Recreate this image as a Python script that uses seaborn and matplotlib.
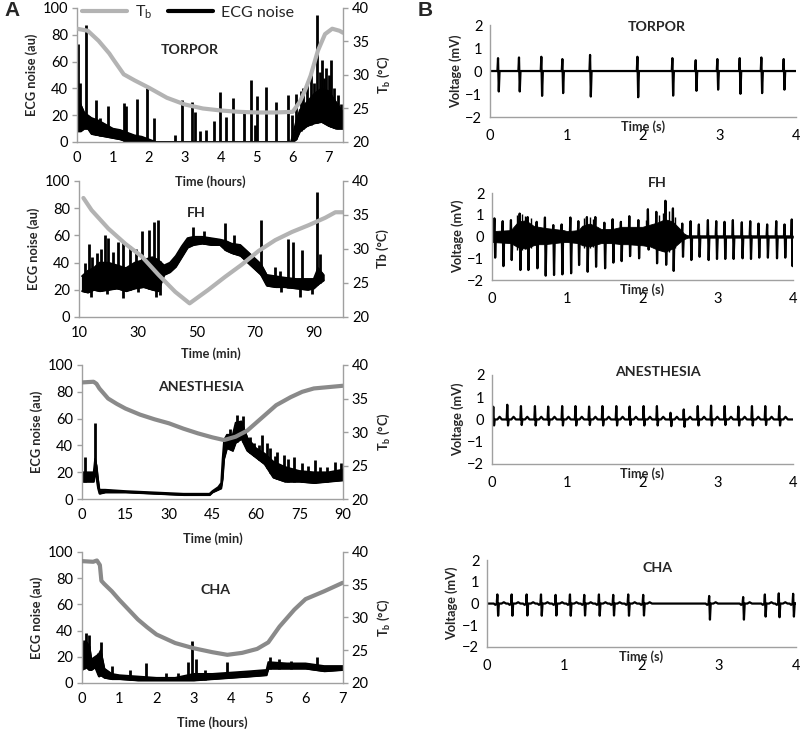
import numpy as np
import matplotlib
matplotlib.use("Agg")
import matplotlib.pyplot as plt
import seaborn as sns
from matplotlib.lines import Line2D

sns.set_theme(style="white")
plt.rcParams['font.family'] = ['Lato', 'DejaVu Sans']
plt.rcParams['mathtext.default'] = 'regular'

# ---------------- Panel A data ----------------
# TORPOR (hours)
torpor_tb_t = [0, 0.3, 0.6, 0.9, 1.0, 1.3, 1.6, 2.0, 2.5, 3.0, 3.5, 4.0, 4.5, 5.0, 5.5, 6.0, 6.2, 6.35, 6.5, 6.7, 6.9, 7.1, 7.3, 7.4]
torpor_tb = [36.9, 36.6, 35.1, 33.2, 32.4, 30.1, 29.2, 28.1, 26.6, 25.6, 25.0, 24.7, 24.5, 24.4, 24.4, 24.5, 26.0, 27.8, 29.9, 33.6, 36.1, 36.9, 36.6, 36.3]
torpor_n_t = [0, 0.1, 0.2, 0.3, 0.4, 0.6, 0.8, 1.0, 1.2, 1.4, 1.6, 1.8, 2.0, 2.2, 5.95, 6.0, 6.1, 6.2, 6.4, 6.6, 6.8, 7.0, 7.2, 7.4]
torpor_n_lo = [8, 8, 10, 10, 6, 5, 4, 3, 2, 0, 0, 0, 0, 0, 0, 0, 2, 8, 12, 14, 15, 12, 10, 10]
torpor_n_hi = [36, 28, 22, 20, 18, 16, 13, 10, 9, 7, 5, 4, 2, 0, 0, 5, 16, 24, 30, 36, 40, 38, 30, 22]
torpor_sp_t = [0.03, 0.08, 0.26, 0.54, 0.65, 0.85, 1.31, 1.37, 1.67, 1.94, 2.15, 2.73, 2.93, 3.19, 3.27, 3.43, 3.6, 3.82, 3.98, 4.15, 4.35, 4.65, 4.84, 4.95, 5.02, 5.27, 5.53, 5.87, 5.99, 6.1, 6.22,
               6.3, 6.4, 6.5, 6.58, 6.67, 6.75, 6.82, 6.88, 6.92, 7.0, 7.06, 7.15, 7.25, 7.35]
torpor_sp_h = [73, 44, 87, 31, 18, 27, 29, 27, 32, 40, 18, 5, 31, 30, 22, 8, 9, 16, 37, 19, 33, 24, 46, 13, 34, 41, 30, 35, 20, 36, 38,
               40, 45, 50, 44, 95, 52, 61, 48, 55, 50, 61, 40, 35, 28]

# FH (min)
fh_tb_t = [11.5, 14.3, 20, 25.7, 31.4, 37.1, 42.8, 47.7, 54.1, 59.8, 65.5, 71.2, 76.9, 82.6, 88.3, 94.0, 97.4, 100]
fh_tb = [37.5, 35.7, 33.0, 30.8, 28.9, 26.2, 23.7, 22.0, 24.0, 25.9, 27.7, 29.7, 31.3, 32.5, 33.5, 34.6, 35.4, 35.4]
fh_n_t = [11, 13, 15, 17, 20, 23, 26, 29, 32, 35, 37, 39, 41, 43, 45, 47, 49, 52, 55, 58, 60, 62, 65, 68, 70, 72, 74, 77, 80, 84, 88, 90, 91.5, 93.4]
fh_n_lo = [19, 18, 20, 19, 20, 21, 19, 21, 22, 20, 19, 31, 33, 37, 44, 51, 53, 54, 53, 53, 49, 47, 45, 39, 35, 31, 23, 22, 22, 21, 20, 21, 24, 27]
fh_n_hi = [30, 34, 36, 40, 40, 38, 36, 40, 42, 44, 42, 38, 40, 45, 52, 58, 59, 59, 58, 57, 56, 54, 53, 47, 43, 39, 31, 30, 29, 28, 28, 28, 36, 31]
fh_sp_t = [12.2, 13.4, 14.6, 16, 17.5, 18.9, 20, 21.5, 23.4, 25.1, 27.4, 29.5, 31.4, 33.7, 35.4, 36.8, 49, 52.5, 59.8, 63, 72.1, 76.9, 78.5, 81.4, 83.1, 86, 91.1, 92.3]
fh_sp_h = [40, 54, 44, 47, 50, 60, 58, 48, 55, 55, 52, 50, 63, 64, 70, 71, 66, 63, 69, 60, 71, 37, 34, 57, 55, 49, 92, 46]
fh_dp_t = [14.0, 19.5, 25.1, 30.0, 36.2, 37.5, 79.0, 85.2, 89.5]
fh_dp_v = [15, 17, 14, 18, 15, 16, 18, 15, 17]

# ANESTHESIA (min)
anes_tb_t = [0, 4, 5, 6, 9, 12, 15, 20, 25, 30, 35, 40, 45, 49, 53, 57, 62, 67, 72, 76, 80, 85, 90]
anes_tb = [37.4, 37.5, 37.2, 36.5, 35.0, 34.2, 33.5, 32.6, 31.9, 31.3, 30.5, 29.8, 29.2, 28.8, 29.3, 30.2, 32.1, 34.0, 35.2, 36.0, 36.5, 36.7, 36.9]
anes_n_t = [0, 4, 4.5, 5, 5.5, 6, 8, 15, 25, 35, 44, 45, 47, 48, 48.5, 49, 50, 52, 53, 55, 57, 60, 63, 66, 70, 75, 80, 85, 90]
anes_n_lo = [13, 13, 20, 15, 8, 4, 5, 5, 4, 3, 3, 5, 7, 8, 15, 30, 38, 36, 42, 45, 36, 31, 26, 16, 13, 13, 12, 13, 14]
anes_n_hi = [20, 20, 30, 25, 15, 7, 7, 6, 5, 4, 4, 6, 9, 12, 30, 44, 48, 48, 57, 58, 46, 38, 34, 28, 24, 21, 20, 20, 22]
anes_sp_t = [1.1, 4.5, 51, 53.5, 55.5, 58, 59.5, 61, 62, 63.8, 65, 66.5, 67.4, 69.6, 71, 73, 75.9, 78, 80.4, 82, 84.5, 87.2, 89.5]
anes_sp_h = [31, 57, 52, 63, 62, 46, 42, 40, 48, 42, 38, 32, 35, 33, 30, 31, 27, 25, 29, 24, 24, 28, 27]

# CHA (hours)
cha_tb_t = [0, 0.3, 0.4, 0.48, 0.52, 0.6, 0.8, 1.0, 1.25, 1.5, 1.75, 2.0, 2.5, 3.0, 3.5, 3.9, 4.3, 4.7, 5.0, 5.3, 5.7, 6.0, 6.5, 7.0]
cha_tb = [38.6, 38.5, 38.7, 38.0, 35.6, 35.1, 34.0, 32.7, 31.2, 29.7, 28.5, 27.4, 26.1, 25.3, 24.7, 24.3, 24.6, 25.2, 26.2, 28.6, 31.2, 32.8, 34.0, 35.3]
cha_n_t = [0, 0.1, 0.2, 0.25, 0.35, 0.45, 0.5, 0.55, 0.6, 0.8, 1.0, 1.5, 2.0, 2.5, 3.0, 3.5, 4.0, 4.5, 4.95, 5.0, 5.5, 6.0, 6.5, 7.0]
cha_n_lo = [10, 12, 10, 10, 12, 5, 6, 5, 4, 3, 3, 2, 2, 2, 2, 3, 4, 5, 6, 11, 11, 11, 9, 10]
cha_n_hi = [28, 32, 28, 18, 20, 22, 25, 18, 11, 7, 6, 5, 4, 4, 7, 7, 8, 9, 10, 16, 15, 15, 13, 13]
cha_sp_t = [0.05, 0.1, 0.2, 0.42, 0.52, 0.8, 1.3, 1.72, 2.25, 2.57, 2.85, 2.95, 3.05, 3.3, 3.9, 5.05, 5.3, 5.6, 6.3]
cha_sp_h = [33, 38, 37, 23, 31, 13, 10, 15, 8, 8, 16, 32, 18, 10, 16, 20, 18, 17, 20]

# ---------------- Panel B data ----------------
torpor_b_beats = [0.109, 0.383, 0.675, 0.950, 1.312, 1.931, 2.388, 2.693, 2.976, 3.268, 3.551, 3.843]
torpor_b_r = [0.56, 0.59, 0.62, 0.52, 0.70, 0.62, 0.56, 0.47, 0.52, 0.56, 0.59, 0.52]
torpor_b_s = [-0.89, -0.89, -1.08, -0.96, -1.11, -1.14, -1.07, -0.86, -0.81, -0.99, -0.96, -0.81]

fh_b_beats = [0.036, 0.146, 0.256, 0.372, 0.478, 0.598, 0.708, 0.819, 0.930, 1.046, 1.152, 1.266,
              1.378, 1.498, 1.608, 1.718, 1.830, 1.950, 2.077, 2.189, 2.310, 2.410, 2.534, 2.645,
              2.755, 2.875, 2.986, 3.096, 3.207, 3.326, 3.438, 3.548, 3.663, 3.784, 3.894, 3.990]
fh_b_r = [0.84, 0.71, 0.76, 1.06, 0.90, 0.68, 0.88, 0.53, 0.56, 0.88, 0.71, 0.90,
          0.90, 0.64, 0.80, 0.68, 0.94, 0.76, 1.26, 1.14, 1.65, 1.30, 0.60, 0.71,
          0.56, 0.76, 0.71, 0.68, 0.76, 0.66, 0.71, 0.60, 0.56, 0.71, 0.56, 0.79]
fh_b_s = [-0.97, -1.36, -1.08, -1.54, -1.54, -1.46, -1.80, -1.77, -1.74, -1.69, -1.31, -1.62,
          -1.39, -1.46, -1.20, -1.13, -0.90, -1.00, -0.60, -1.23, -1.30, -1.58, -0.93, -1.08,
          -0.93, -1.08, -1.03, -1.03, -1.03, -1.00, -1.03, -0.97, -0.97, -1.00, -0.97, -1.36]
fh_b_env_t = [0, 0.25, 0.3, 0.35, 0.45, 0.55, 0.62, 0.7, 0.95, 1.0, 1.15, 1.2, 1.3, 1.4, 1.45, 1.6, 1.72, 1.8, 2.0, 2.1, 2.2, 2.3, 2.4, 2.5, 2.55, 2.6, 4.0]
fh_b_env_up = [0.25, 0.3, 0.5, 0.7, 0.75, 0.5, 0.45, 0.4, 0.3, 0.25, 0.3, 0.5, 0.6, 0.45, 0.35, 0.35, 0.45, 0.45, 0.45, 0.55, 0.65, 0.8, 0.7, 0.35, 0.15, 0.05, 0.05]
fh_b_env_dn = [0.25, 0.3, 0.4, 0.5, 0.55, 0.4, 0.35, 0.35, 0.25, 0.25, 0.3, 0.4, 0.45, 0.35, 0.3, 0.3, 0.35, 0.35, 0.4, 0.45, 0.6, 0.7, 0.55, 0.25, 0.12, 0.05, 0.05]
fh_b_hair_t = [0.33, 0.40, 0.44, 0.52, 1.22, 1.30, 1.34, 2.05, 2.22, 2.27, 2.36, 2.44]
fh_b_hair_v = [1.0, 1.05, 0.95, 0.85, 0.85, 0.9, 0.8, 0.75, 1.0, 1.1, 1.2, 0.9]

anes_b_beats = [0.021, 0.207, 0.389, 0.575, 0.751, 0.937, 1.114, 1.295, 1.472, 1.657, 1.834, 2.020,
                2.197, 2.378, 2.554, 2.740, 2.917, 3.098, 3.280, 3.461, 3.638, 3.824]
anes_b_r = [0.57, 0.66, 0.60, 0.60, 0.58, 0.60, 0.60, 0.58, 0.60, 0.60, 0.58, 0.60,
            0.60, 0.30, 0.45, 0.60, 0.62, 0.60, 0.58, 0.60, 0.60, 0.60]
anes_b_s = [-0.27, -0.27, -0.25, -0.27, -0.25, -0.27, -0.27, -0.25, -0.27, -0.27, -0.25, -0.27,
            -0.27, -0.30, -0.33, -0.27, -0.27, -0.25, -0.27, -0.27, -0.25, -0.27]
anes_b_twave = 0.12

cha_b_beats = [0.138, 0.323, 0.517, 0.703, 0.892, 1.078, 1.263, 1.453, 1.638, 1.832, 2.026, 2.880, 3.320, 3.601, 3.781, 3.967]
cha_b_r = [0.42, 0.42, 0.42, 0.42, 0.40, 0.42, 0.40, 0.42, 0.40, 0.42, 0.40, 0.35, 0.30, 0.42, 0.47, 0.45]
cha_b_s = [-0.56, -0.56, -0.55, -0.56, -0.55, -0.56, -0.55, -0.56, -0.55, -0.56, -0.55, -0.74, -0.74, -0.60, -0.63, -0.60]
cha_b_twave = 0.06

# ---------------- styling ----------------
AXC = '#a0a0a0'
TB_LIGHT = '#b3b3b3'
TB_DARK = '#8a8a8a'
TICK_FS = 10.5
LAB_FS = 9.2
TIT_FS = 10.2

fig = plt.figure(figsize=(8, 7.3), dpi=100)


def style_spines(ax, left=True, right=False, bottom=True):
    for name, vis in [('left', left), ('right', right), ('bottom', bottom), ('top', False)]:
        ax.spines[name].set_visible(vis)
        ax.spines[name].set_color(AXC)
        ax.spines[name].set_linewidth(1.0)
    ax.tick_params(axis='both', which='both', direction='out', length=3.5, width=1.0,
                   color=AXC, labelsize=TICK_FS, pad=3, labelcolor='black')
    ax.grid(False)


def panel_a(rect, xlim, xticks, xticklabels, tb_t, tb, tb_color, n_t, lo, hi, sp_t, sp_h,
            title, title_xy, xlabel, xlabel_y, tb_label, dp=None):
    ax = fig.add_axes(rect)
    ax.set_facecolor('none')
    ax.fill_between(n_t, lo, hi, color='black', linewidth=0.8, edgecolor='black')
    sns.lineplot(x=n_t, y=lo, color='black', lw=1.2, ax=ax, sort=False, estimator=None)
    sns.lineplot(x=n_t, y=hi, color='black', lw=1.2, ax=ax, sort=False, estimator=None)
    base = np.interp(sp_t, n_t, lo)
    ax.vlines(sp_t, base, sp_h, color='black', lw=2.0)
    if dp is not None:
        top = np.interp(dp[0], n_t, hi)
        ax.vlines(dp[0], dp[1], top, color='black', lw=2.0)
    ax.set_xlim(*xlim)
    ax.set_ylim(0, 100)
    ax.set_yticks([0, 20, 40, 60, 80, 100])
    ax.set_xticks(xticks)
    ax.set_xticklabels(xticklabels)
    style_spines(ax, left=True, right=False, bottom=True)
    ax.set_xlabel(xlabel, fontsize=LAB_FS, fontweight='bold')
    ax.xaxis.set_label_coords(0.5, xlabel_y)
    ax.set_ylabel('ECG noise (au)', fontsize=LAB_FS, fontweight='bold')
    ax.yaxis.set_label_coords(-0.148, 0.5)
    ax.text(title_xy[0], title_xy[1], title, transform=ax.transAxes, ha='center', va='center',
            fontsize=TIT_FS, fontweight='bold')
    ax2 = ax.twinx()
    sns.lineplot(x=tb_t, y=tb, color=tb_color, lw=3.0, ax=ax2, sort=False, estimator=None)
    ax2.set_ylim(20, 40)
    ax2.set_yticks([20, 25, 30, 35, 40])
    style_spines(ax2, left=False, right=True, bottom=False)
    ax2.set_ylabel(tb_label, fontsize=LAB_FS, fontweight='bold')
    ax2.yaxis.set_label_coords(1.125, 0.5)
    ax2.set_xlim(*xlim)
    return ax


def ecg_trace(beats, r, s, twave=0.0, pre=0.0):
    tt = [0.0]
    vv = [0.0]
    for tb, rv, sv in zip(beats, r, s):
        if pre:
            tt += [tb - 0.05, tb - 0.03]
            vv += [0.0, -pre]
        tt += [tb - 0.012, tb - 0.004, tb + 0.006, tb + 0.016]
        vv += [0.0, rv, sv, 0.0]
        if twave:
            tt += [tb + 0.05, tb + 0.08, tb + 0.11]
            vv += [0.0, twave, 0.0]
    tt.append(4.0)
    vv.append(0.0)
    return tt, vv


def panel_b(rect, beats, r, s, title, title_xy, twave=0.0, pre=0.0, env=None, hair=None):
    ax = fig.add_axes(rect)
    ax.set_facecolor('none')
    if env is not None:
        et, eu, ed = env
        ax.fill_between(et, [-d for d in ed], eu, color='black', linewidth=0.6, edgecolor='black')
    if hair is not None:
        ax.vlines(hair[0], [-0.6 * h for h in hair[1]], hair[1], color='black', lw=1.0)
    tt, vv = ecg_trace(beats, r, s, twave, pre)
    sns.lineplot(x=tt, y=vv, color='black', lw=1.6, ax=ax, sort=False, estimator=None)
    ax.set_xlim(0, 4)
    ax.set_ylim(-2, 2)
    ax.set_xticks([0, 1, 2, 3, 4])
    ax.set_yticks([-2, -1, 0, 1, 2])
    style_spines(ax, left=True, right=False, bottom=True)
    ax.tick_params(axis='x', pad=5)
    ax.tick_params(axis='y', pad=2)
    ax.set_xlabel('Time (s)', fontsize=LAB_FS, fontweight='bold')
    ax.xaxis.set_label_coords(0.5, -0.035)
    ax.set_ylabel('Voltage (mV)', fontsize=LAB_FS, fontweight='bold')
    ax.yaxis.set_label_coords(-0.092, 0.5)
    ax.text(title_xy[0], title_xy[1], title, transform=ax.transAxes, ha='center', va='center',
            fontsize=TIT_FS, fontweight='bold')
    return ax


TB_MATH = 'T$_{b}$ (°C)'

panel_a([0.09625, 0.8055, 0.3325, 0.1836], (0, 7.4), list(range(8)), [str(i) for i in range(8)],
        torpor_tb_t, torpor_tb, TB_LIGHT, torpor_n_t, torpor_n_lo, torpor_n_hi, torpor_sp_t, torpor_sp_h,
        'TORPOR', (0.425, 0.687), 'Time (hours)', -0.245, TB_MATH)

panel_a([0.09875, 0.5658, 0.33, 0.1863], (10, 100), list(range(10, 100, 10)),
        ['10', '', '30', '', '50', '', '70', '', '90'],
        fh_tb_t, fh_tb, TB_LIGHT, fh_n_t, fh_n_lo, fh_n_hi, fh_sp_t, fh_sp_h,
        'FH', (0.443, 0.765), 'Time (min)', -0.225, 'Tb (°C)', dp=(fh_dp_t, fh_dp_v))

panel_a([0.1025, 0.3164, 0.326, 0.1836], (0, 90), list(range(0, 91, 15)), [str(i) for i in range(0, 91, 15)],
        anes_tb_t, anes_tb, TB_DARK, anes_n_t, anes_n_lo, anes_n_hi, anes_sp_t, anes_sp_h,
        'ANESTHESIA', (0.456, 0.836), 'Time (min)', -0.25, TB_MATH)

panel_a([0.1025, 0.0644, 0.326, 0.1795], (0, 7), list(range(8)), [str(i) for i in range(8)],
        cha_tb_t, cha_tb, TB_DARK, cha_n_t, cha_n_lo, cha_n_hi, cha_sp_t, cha_sp_h,
        'CHA', (0.51, 0.71), 'Time (hours)', -0.255, TB_MATH)

panel_b([0.6125, 0.8397, 0.3825, 0.126], torpor_b_beats, torpor_b_r, torpor_b_s, 'TORPOR', (0.546, 0.978))
panel_b([0.615, 0.6164, 0.376, 0.119], fh_b_beats, fh_b_r, fh_b_s, 'FH', (0.551, 1.115),
        env=(fh_b_env_t, fh_b_env_up, fh_b_env_dn), hair=(fh_b_hair_t, fh_b_hair_v))
panel_b([0.615, 0.3644, 0.376, 0.122], anes_b_beats, anes_b_r, anes_b_s, 'ANESTHESIA', (0.551, 1.034),
        twave=anes_b_twave)
panel_b([0.60875, 0.1137, 0.38625, 0.119], cha_b_beats, cha_b_r, cha_b_s, 'CHA', (0.551, 0.908),
        twave=cha_b_twave, pre=0.06)

# legend
handles = [Line2D([], [], color=TB_LIGHT, lw=3), Line2D([], [], color='black', lw=3)]
fig.legend(handles, ['T$_{b}$', 'ECG noise'], loc='center', bbox_to_anchor=(0.235, 0.983),
           ncol=2, frameon=False, fontsize=11.5, handlelength=2.8, handletextpad=0.5, columnspacing=1.0)

fig.text(0.015, 0.985, 'A', fontsize=15, fontweight='bold', ha='center', va='center',
         family=['Liberation Sans', 'DejaVu Sans'])
fig.text(0.531, 0.985, 'B', fontsize=15, fontweight='bold', ha='center', va='center',
         family=['Liberation Sans', 'DejaVu Sans'])

fig.savefig('out.png', dpi=100, facecolor='white')
